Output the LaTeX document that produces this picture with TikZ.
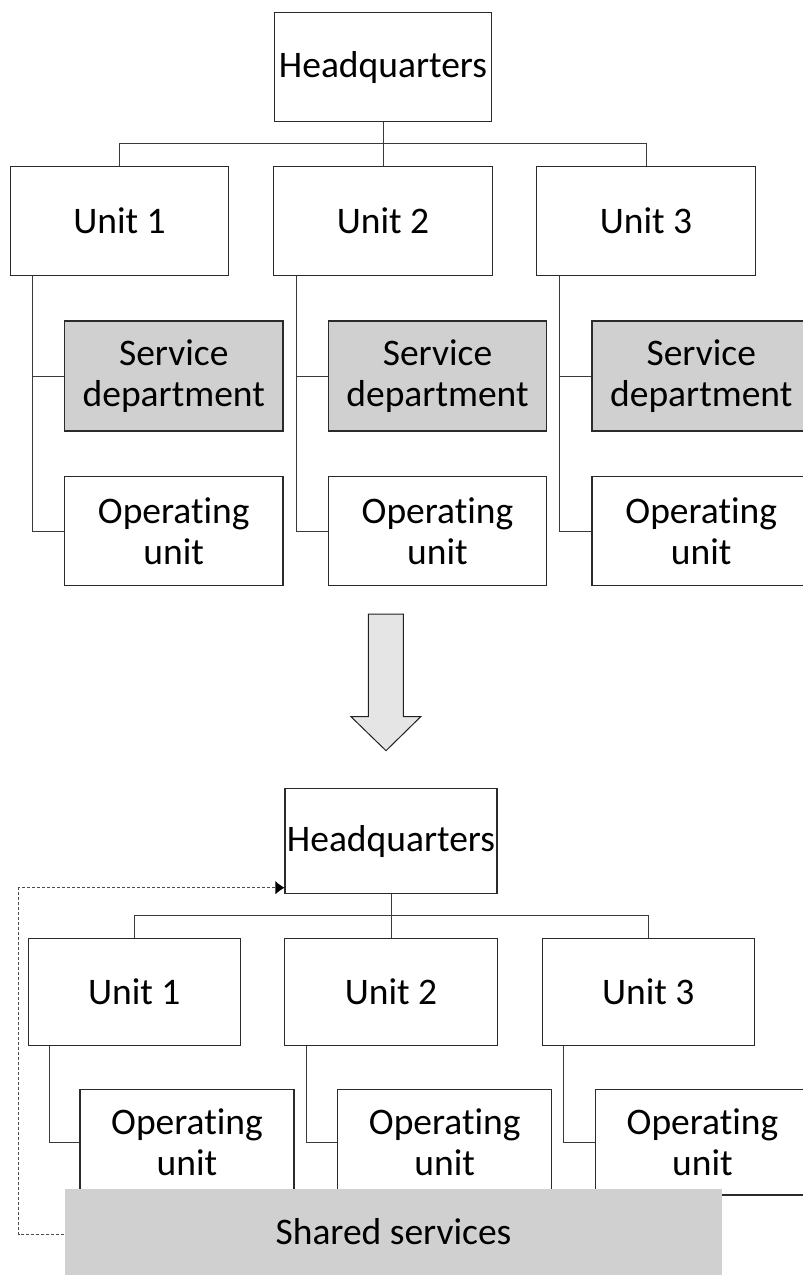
\documentclass[tikz,border=0pt]{standalone}
\usepackage{fontspec}
\setmainfont{Carlito}[Ligatures=NoCommon]
\usetikzlibrary{arrows.meta}
\definecolor{boxline}{HTML}{2B2B2B}
\definecolor{linkline}{HTML}{3A3A3A}
\definecolor{servfill}{HTML}{D1D0D1}
\definecolor{arrowfill}{HTML}{E5E5E5}
\tikzset{
  orgbox/.style={draw=boxline, line width=1.1pt, fill=white, inner sep=0pt,
    align=center, font=\fontsize{37.5}{41}\selectfont},
  servbox/.style={orgbox, fill=servfill},
  link/.style={draw=linkline, line width=1pt},
  feedback/.style={draw=gray!60!black, line width=1pt, dash pattern=on 3pt off 2pt},
  bigarrow/.style={draw=gray!25!black, line width=1pt, fill=arrowfill, line join=miter}
}
\begin{document}
\begin{tikzpicture}[x=1pt, y=-1pt]
\useasboundingbox (0,0) rectangle (803,1275);

% ---------- decentralised structure ----------
\node[orgbox, minimum width=217pt, minimum height=108.6pt] (hqA) at (383,67) {Headquarters};
\foreach \n/\x in {1/119.5, 2/383, 3/646}
  \node[orgbox, minimum width=218.5pt, minimum height=109pt] (uA\n) at (\x,221.2) {Unit \n};
\foreach \n/\x in {1/173.75, 2/437.5, 3/701.25} {
  \node[servbox, minimum width=218.5pt, minimum height=110pt] (sdA\n) at (\x,376) {Service\\department};
  \node[orgbox, minimum width=218.5pt, minimum height=108.6pt] (ouA\n) at (\x,531) {Operating\\unit};
}
\draw[link] (hqA.south) -- (uA2.north);
\draw[link] (uA1.north) -- ++(0,-22.7) -| (uA3.north);
\foreach \n in {1,2,3} {
  \draw[link] ([xshift=-87pt]uA\n.south) |- (ouA\n.west);
  \draw[link] ([xshift=-87pt]uA\n.south) |- (sdA\n.west);
}

% ---------- transition arrow ----------
\draw[bigarrow] (368.3,614) -- (403.3,614) -- (403.3,716.7) -- (420.7,716.7)
  -- (386,750.7) -- (351,716.7) -- (368.3,716.7) -- cycle;

% ---------- structure with shared services ----------
\node[orgbox, minimum width=212pt, minimum height=105.4pt] (hqB) at (391,841) {Headquarters};
\foreach \n/\x in {1/134.3, 2/391, 3/648.3}
  \node[orgbox, minimum width=212.5pt, minimum height=106.3pt] (uB\n) at (\x,991.9) {Unit \n};
\foreach \n/\x in {1/187, 2/444.75, 3/702.5}
  \node[orgbox, minimum width=214pt, minimum height=105.3pt] (ouB\n) at (\x,1142.35) {Operating\\unit};
\draw[link] (hqB.south) -- (uB2.north);
\draw[link] (uB1.north) -- ++(0,-22.7) -| (uB3.north);
\foreach \n in {1,2,3}
  \draw[link] ([xshift=-85pt]uB\n.south) |- (ouB\n.west);

\node[orgbox, draw=none, fill=servfill, minimum width=657pt, minimum height=86pt] (shared) at (393.5,1232) {Shared services};

\draw[feedback, -{Latex[length=9pt, width=13pt, fill=black, line width=0pt]}] ([yshift=-2pt]shared.west) -- ++(-45.5,0)
  |- ([yshift=-46.7pt]hqB.west);
\end{tikzpicture}
\end{document}
